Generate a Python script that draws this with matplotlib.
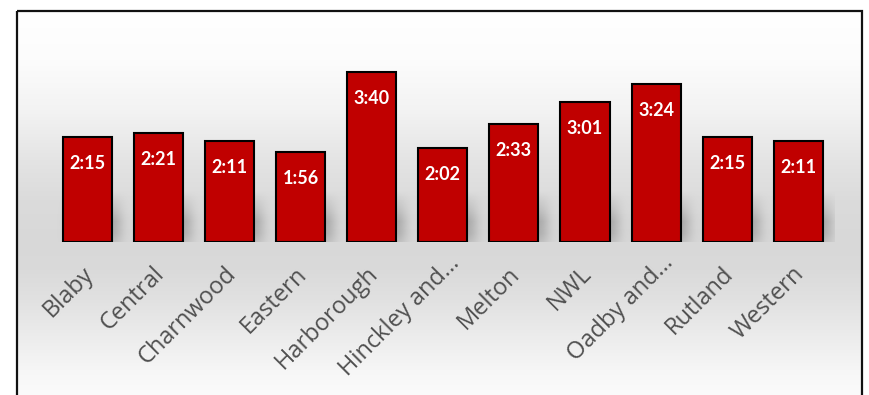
import numpy as np
import matplotlib
matplotlib.use("Agg")
import matplotlib.pyplot as plt
from matplotlib.patches import Rectangle

# Average response time per district (mm:ss)
districts = ["Blaby", "Central", "Charnwood", "Eastern", "Harborough",
             "Hinckley and…", "Melton", "NWL", "Oadby and…", "Rutland", "Western"]
times = ["2:15", "2:21", "2:11", "1:56", "3:40", "2:02",
         "2:33", "3:01", "3:24", "2:15", "2:11"]


def to_seconds(t):
    m, s = t.split(":")
    return int(m) * 60 + int(s)


seconds = np.array([to_seconds(t) for t in times], dtype=float)

W, H, DPI = 870, 395, 100
fig = plt.figure(figsize=(W / DPI, H / DPI), dpi=DPI)
fig.patch.set_facecolor("white")

# ---- chart-area background: vertical grey gradient inside a black frame ----
bg = fig.add_axes([0, 0, 1, 1], zorder=0)
stops_y = [11, 60, 110, 160, 200, 243, 270, 300, 340, 370, 395]
stops_v = [255, 252, 243, 228, 219, 216, 218, 225, 237, 246, 251]
ys = np.arange(11, H + 1)
vals = np.interp(ys, stops_y, stops_v) / 255.0
grad = np.dstack([np.repeat(vals[:, None], 2, axis=1)] * 3)
bg.imshow(grad, extent=(17, 862, H, 11), aspect="auto", interpolation="bilinear")
bg.add_patch(Rectangle((17, 11), 845, 420, fill=False, ec="#111111", lw=1.6))
bg.set_xlim(0, W)
bg.set_ylim(H, 0)
bg.axis("off")

# ---- plot area ----
left_px, right_px = 51.6, 833.9
base_px, px_per_s = 241.7, 0.772
ymax = 250
ax = fig.add_axes([left_px / W, (H - base_px) / H,
                   (right_px - left_px) / W, ymax * px_per_s / H], zorder=1)
ax.set_facecolor("none")
ax.set_xlim(-0.5, len(districts) - 0.5)
ax.set_ylim(0, ymax)
for sp in ax.spines.values():
    sp.set_visible(False)
ax.set_xticks([])
ax.set_yticks([])

x = np.arange(len(districts))
bar_w = 0.69

# soft drop shadow behind the bars near the baseline
px_per_cat = (right_px - left_px) / len(districts)
nx = int(round(right_px - left_px))
sh_h = 52
xs = np.linspace(-0.5, len(districts) - 0.5, nx)
shift = 8 / px_per_cat
mask = np.zeros(nx)
for xi in x:
    mask[np.abs(xs - xi - shift) <= bar_w / 2] = 1.0
sig = 6.0
k = np.arange(-20, 21)
kern = np.exp(-0.5 * (k / sig) ** 2)
kern /= kern.sum()
blur = np.convolve(mask, kern, mode="same")
hh = np.arange(sh_h)[::-1]
prof = np.interp(hh, [0, 8, 20, 34, 50], [0.6, 0.9, 1.0, 0.5, 0.0])
alpha = 0.45 * prof[:, None] * blur[None, :]
shadow = np.zeros((sh_h, nx, 4))
shadow[..., :3] = 0.4
shadow[..., 3] = alpha
ax.imshow(shadow, extent=(-0.5, len(districts) - 0.5, 0, sh_h / px_per_s),
          aspect="auto", interpolation="bilinear", zorder=1)
ax.set_xlim(-0.5, len(districts) - 0.5)
ax.set_ylim(0, ymax)

ax.bar(x, seconds, width=bar_w, color="#C00000", edgecolor="black",
       linewidth=1.5, zorder=3)

# value labels inside the top of each bar
for xi, s, t in zip(x, seconds, times):
    ax.annotate(t, xy=(xi, s), xytext=(0, -26.5 * 0.72), textcoords="offset points",
                ha="center", va="center", color="white", fontsize=13,
                fontweight="bold", family="Lato", zorder=4)

# rotated category labels; truncated names sit a little further along the diagonal
for xi, name in zip(x, districts):
    extra = 11 if name.endswith("…") else 0
    dx = (7 + extra) * 0.72
    dy = (33 - extra) * 0.72
    ax.annotate(name, xy=(xi, 0), xytext=(dx, -dy),
                textcoords="offset points", rotation=45, rotation_mode="anchor",
                ha="right", va="baseline", fontsize=17, color="#505050",
                family="Open Sans", annotation_clip=False)

fig.savefig("out.png", dpi=DPI)
